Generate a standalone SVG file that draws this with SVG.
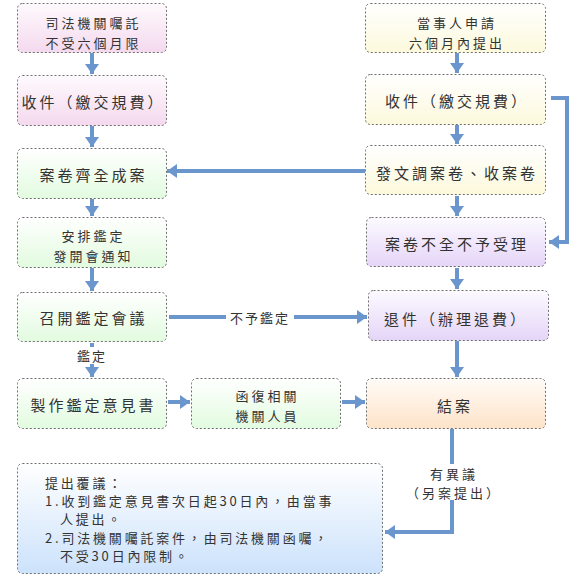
<svg xmlns="http://www.w3.org/2000/svg" width="580" height="580" viewBox="0 0 580 580">
<defs>
<linearGradient id="gPink" x1="0" y1="0" x2="0" y2="1"><stop offset="0" stop-color="#fefafd"/><stop offset="1" stop-color="#f4d9ee"/></linearGradient>
<linearGradient id="gGreen" x1="0" y1="0" x2="0" y2="1"><stop offset="0" stop-color="#ffffff"/><stop offset="1" stop-color="#e2fbdf"/></linearGradient>
<linearGradient id="gYellow" x1="0" y1="0" x2="0" y2="1"><stop offset="0" stop-color="#ffffff"/><stop offset="1" stop-color="#fcf9dc"/></linearGradient>
<linearGradient id="gPurple" x1="0" y1="0" x2="0" y2="1"><stop offset="0" stop-color="#fcfaff"/><stop offset="1" stop-color="#e5d5f8"/></linearGradient>
<linearGradient id="gOrange" x1="0" y1="0" x2="0" y2="1"><stop offset="0" stop-color="#fffbf7"/><stop offset="1" stop-color="#fde3c9"/></linearGradient>
<linearGradient id="gBlue" x1="0" y1="0" x2="0" y2="1"><stop offset="0" stop-color="#ffffff"/><stop offset="1" stop-color="#cce2fb"/></linearGradient>
<marker id="ah" viewBox="0 0 10 14" markerWidth="10" markerHeight="14" refX="10" refY="7" orient="auto" markerUnits="userSpaceOnUse">
<path d="M0,0 L10,7 L0,14 z" fill="#6b96cd"/>
</marker>
<style>
.box{stroke:#6e6e6e;stroke-width:1;stroke-dasharray:2,2}
.t{font-family:"Noto Sans CJK TC","Noto Sans CJK SC",sans-serif;fill:#333;text-anchor:middle;dominant-baseline:central}
.big{font-size:15px;letter-spacing:3px}
.sm{font-size:13px;letter-spacing:3px}
.note{font-family:"Noto Sans CJK TC","Noto Sans CJK SC",sans-serif;fill:#333;font-size:13px;letter-spacing:2.8px;dominant-baseline:central}
.c{fill:none;stroke:#6b96cd;stroke-width:4}
.ca{fill:none;stroke:#6b96cd;stroke-width:4;marker-end:url(#ah)}
</style>
</defs>

<g id="connectors">
<line class="ca" x1="92" y1="53" x2="92" y2="74"/>
<line class="ca" x1="92" y1="126" x2="92" y2="147"/>
<line class="ca" x1="92" y1="199" x2="92" y2="216"/>
<line class="ca" x1="92" y1="268" x2="92" y2="291"/>
<line class="ca" x1="92" y1="343" x2="92" y2="377"/>
<line class="ca" x1="457" y1="53" x2="457" y2="73"/>
<line class="ca" x1="457" y1="125" x2="457" y2="144"/>
<line class="ca" x1="457" y1="196" x2="457" y2="216"/>
<line class="ca" x1="457" y1="268" x2="457" y2="289"/>
<line class="ca" x1="457" y1="341" x2="457" y2="377"/>
<line class="ca" x1="365" y1="171" x2="167" y2="171"/>
<polyline class="ca" points="551,98 567,98 567,242 549,242"/>
<line class="ca" x1="169" y1="317" x2="367" y2="317"/>
<line class="ca" x1="168" y1="402" x2="190" y2="402"/>
<line class="ca" x1="342" y1="402" x2="365" y2="402"/>
<polyline class="ca" points="452,429 452,532 385,532"/>
<rect x="226" y="308" width="68" height="18" fill="#fff"/>
<text class="t sm" x="260" y="317" style="letter-spacing:2px">不予鑑定</text>
<rect x="74" y="347" width="38" height="17" fill="#fff"/>
<text class="t sm" x="92" y="355" style="letter-spacing:2px">鑑定</text>
<rect x="400" y="464" width="104" height="36" fill="#fff"/>
<text class="t sm" x="454" y="473">有異議</text>
<text class="t sm" x="454" y="492">（另案提出）</text>
</g>

<g id="n1"><rect class="box" x="17.5" y="3.5" width="149" height="49" rx="5" fill="url(#gPink)"/>
<text class="t sm" x="93.5" y="22">司法機關囑託</text><text class="t sm" x="93.5" y="42">不受六個月限</text></g>
<g id="n2"><rect class="box" x="17.5" y="75.5" width="149" height="50" rx="5" fill="url(#gPink)"/>
<text class="t big" x="93.5" y="101">收件（繳交規費）</text></g>
<g id="n3"><rect class="box" x="17.5" y="148.5" width="149" height="50" rx="5" fill="url(#gGreen)"/>
<text class="t big" x="93.5" y="174">案卷齊全成案</text></g>
<g id="n4"><rect class="box" x="17.5" y="217.5" width="149" height="50" rx="5" fill="url(#gGreen)"/>
<text class="t sm" x="93.5" y="235">安排鑑定</text><text class="t sm" x="93.5" y="255">發開會通知</text></g>
<g id="n5"><rect class="box" x="17.5" y="292.5" width="149" height="49" rx="5" fill="url(#gGreen)"/>
<text class="t big" x="93.5" y="317">召開鑑定會議</text></g>
<g id="n6"><rect class="box" x="17.5" y="378.5" width="149" height="50" rx="5" fill="url(#gGreen)"/>
<text class="t big" x="93.5" y="404">製作鑑定意見書</text></g>
<g id="n7"><rect class="box" x="191.5" y="378.5" width="149" height="50" rx="5" fill="url(#gGreen)"/>
<text class="t sm" x="267.5" y="395">函復相關</text><text class="t sm" x="267.5" y="415">機關人員</text></g>

<g id="r1"><rect class="box" x="365.5" y="3.5" width="180" height="49" rx="5" fill="url(#gYellow)"/>
<text class="t sm" x="457" y="22">當事人申請</text><text class="t sm" x="457" y="42">六個月內提出</text></g>
<g id="r2"><rect class="box" x="365.5" y="74.5" width="180" height="50" rx="5" fill="url(#gYellow)"/>
<text class="t big" x="457" y="100">收件（繳交規費）</text></g>
<g id="r3"><rect class="box" x="365.5" y="145.5" width="180" height="49" rx="5" fill="url(#gYellow)"/>
<text class="t big" x="457" y="172">發文調案卷、收案卷</text></g>
<g id="r4"><rect class="box" x="366.5" y="217.5" width="179" height="49" rx="5" fill="url(#gPurple)"/>
<text class="t big" x="457" y="243">案卷不全不予受理</text></g>
<g id="r5"><rect class="box" x="368.5" y="290.5" width="180" height="50" rx="5" fill="url(#gPurple)"/>
<text class="t big" x="456" y="318">退件（辦理退費）</text></g>
<g id="r6"><rect class="box" x="366.5" y="378.5" width="179" height="50" rx="5" fill="url(#gOrange)"/>
<text class="t big" x="455" y="405">結案</text></g>

<g id="note"><rect class="box" x="17.5" y="463.5" width="365" height="110" rx="5" fill="url(#gBlue)"/>
<text class="note" x="45" y="482">提出覆議：</text>
<text class="note" x="45" y="500">1.收到鑑定意見書次日起30日內，由當事</text>
<text class="note" x="60" y="518">人提出。</text>
<text class="note" x="45" y="537">2.司法機關囑託案件，由司法機關函囑，</text>
<text class="note" x="60" y="555">不受30日內限制。</text>
</g>
</svg>
